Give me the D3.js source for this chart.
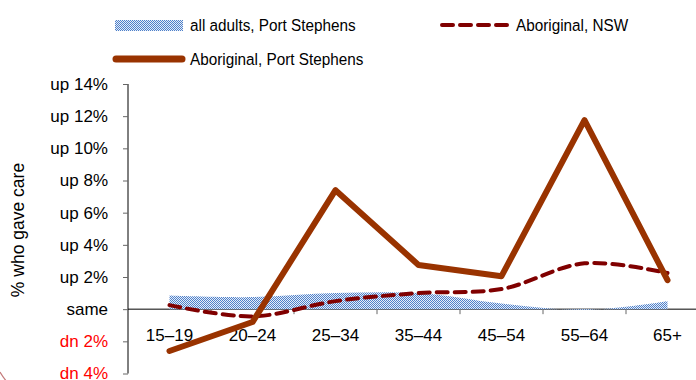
<!DOCTYPE html>
<html>
<head>
<meta charset="utf-8">
<script src="https://cdn.jsdelivr.net/npm/d3@7/dist/d3.min.js"></script>
<style>
  html, body { margin: 0; padding: 0; background: #fff; }
  svg { display: block; font-family: "Liberation Sans", Arial, sans-serif; }
</style>
</head>
<body>
<svg id="chart" width="696" height="380"></svg>
<script>
// Age groups along the x axis
const ageGroups = ["15–19", "20–24", "25–34", "35–44", "45–54", "55–64", "65+"];

// Change in % who gave care, by series
const allAdultsPortStephens = [0.85, 0.75, 1.0, 1.0, 0.35, -0.05, 0.5];
const aboriginalNSW = [0.25, -0.45, 0.5, 1.0, 1.25, 2.85, 2.25];
const aboriginalPortStephens = [-2.6, -0.8, 7.4, 2.75, 2.05, 11.75, 1.8];

// Y axis ticks
const yTickValues = [-4, -2, 0, 2, 4, 6, 8, 10, 12, 14];
const yTickLabel = v => v === 0 ? "same" : (v > 0 ? "up " + v + "%" : "dn " + Math.abs(v) + "%");

const seriesNames = ["all adults, Port Stephens", "Aboriginal, NSW", "Aboriginal, Port Stephens"];
const axisTitle = "% who gave care";

const W = 696, H = 380;
const svg = d3.select("#chart");

const x = d3.scaleBand().domain(ageGroups).range([128, 709]).paddingInner(0).paddingOuter(0);
const cx = d => x(d) + x.bandwidth() / 2;
const y = d3.scaleLinear().domain([-4, 14]).range([373.5, 84]);

const clr = {
  brown: "#993300",
  maroon: "#800000",
  blue: "#4f80c9"
};

// Checkered fill for the all-adults area
const defs = svg.append("defs");
const pat = defs.append("pattern")
  .attr("id", "checks").attr("patternUnits", "userSpaceOnUse")
  .attr("width", 2).attr("height", 2);
pat.append("rect").attr("width", 2).attr("height", 2).attr("fill", "#e6eef9");
pat.append("rect").attr("x", 0).attr("y", 0).attr("width", 1).attr("height", 1).attr("fill", clr.blue);
pat.append("rect").attr("x", 1).attr("y", 1).attr("width", 1).attr("height", 1).attr("fill", clr.blue);

defs.append("clipPath").attr("id", "clip")
  .append("rect").attr("x", 0).attr("y", 0).attr("width", W).attr("height", H);

const root = svg.append("g").attr("clip-path", "url(#clip)");

// Y axis
const yAxis = d3.axisLeft(y).tickValues(yTickValues).tickSize(5).tickPadding(15).tickFormat(yTickLabel);
const gy = root.append("g").attr("transform", "translate(128,0)").call(yAxis);
gy.select(".domain").attr("stroke", "#000").attr("d", `M0,${y(14)}V${y(-4)}`);
gy.selectAll(".tick line").attr("stroke", "#666");
gy.selectAll(".tick text")
  .attr("font-size", 17).attr("font-family", "Liberation Sans, Arial, sans-serif")
  .attr("fill", d => d < 0 ? "#ff0000" : "#000");

// X axis at zero, with ticks on band boundaries
const gx = root.append("g").attr("transform", `translate(0,${y(0)})`);
gx.append("line").attr("x1", 128).attr("x2", W).attr("y1", 0).attr("y2", 0).attr("stroke", "#000");
gx.selectAll("line.tk").data(ageGroups.slice(1))
  .join("line").attr("class", "tk")
  .attr("x1", d => x(d)).attr("x2", d => x(d))
  .attr("y1", 0).attr("y2", 5).attr("stroke", "#666");
gx.selectAll("text").data(ageGroups)
  .join("text")
  .attr("x", d => cx(d)).attr("y", 32)
  .attr("text-anchor", "middle")
  .attr("font-size", 17).attr("fill", "#000")
  .text(d => d);

// Area: all adults, Port Stephens
const area = d3.area()
  .x((d, i) => cx(ageGroups[i]))
  .y0(y(0)).y1(d => y(d))
  .curve(d3.curveCatmullRom.alpha(0.5));
root.append("path").datum(allAdultsPortStephens)
  .attr("d", area).attr("fill", "url(#checks)");

// Dashed smooth line: Aboriginal, NSW
const smooth = d3.line()
  .x((d, i) => cx(ageGroups[i])).y(d => y(d))
  .curve(d3.curveCatmullRom.alpha(0.5));
root.append("path").datum(aboriginalNSW)
  .attr("d", smooth).attr("fill", "none")
  .attr("stroke", clr.maroon).attr("stroke-width", 4)
  .attr("stroke-dasharray", "11,7").attr("stroke-linecap", "round");

// Solid line: Aboriginal, Port Stephens
const straight = d3.line()
  .x((d, i) => cx(ageGroups[i])).y(d => y(d));
root.append("path").datum(aboriginalPortStephens)
  .attr("d", straight).attr("fill", "none")
  .attr("stroke", clr.brown).attr("stroke-width", 6)
  .attr("stroke-linejoin", "round").attr("stroke-linecap", "round");

// Y axis title
root.append("text")
  .attr("transform", "translate(24,230) rotate(-90)")
  .attr("text-anchor", "middle").attr("font-size", 17.5).attr("fill", "#000")
  .text(axisTitle);

// Legend
const legend = root.append("g");
const legText = (tx, ty, s) => legend.append("text")
  .attr("transform", `translate(${tx},${ty}) scale(0.9,1)`)
  .attr("font-size", 17).attr("fill", "#000").text(s);

legend.append("rect").attr("x", 115).attr("y", 20).attr("width", 68).attr("height", 11)
  .attr("fill", "url(#checks)");
legText(190, 31, seriesNames[0]);

legend.append("line").attr("x1", 442).attr("x2", 510).attr("y1", 25).attr("y2", 25)
  .attr("stroke", clr.maroon).attr("stroke-width", 4)
  .attr("stroke-dasharray", "11,7").attr("stroke-linecap", "round");
legText(516, 31, seriesNames[1]);

legend.append("line").attr("x1", 116).attr("x2", 182).attr("y1", 59).attr("y2", 59)
  .attr("stroke", clr.brown).attr("stroke-width", 7).attr("stroke-linecap", "round");
legText(190, 65, seriesNames[2]);

// Corner ring fragment
root.append("path").attr("d", "M0,372 Q3,377 7,382")
  .attr("fill", "none").attr("stroke", "#c47a7a").attr("stroke-width", 1.2);
</script>
</body>
</html>
